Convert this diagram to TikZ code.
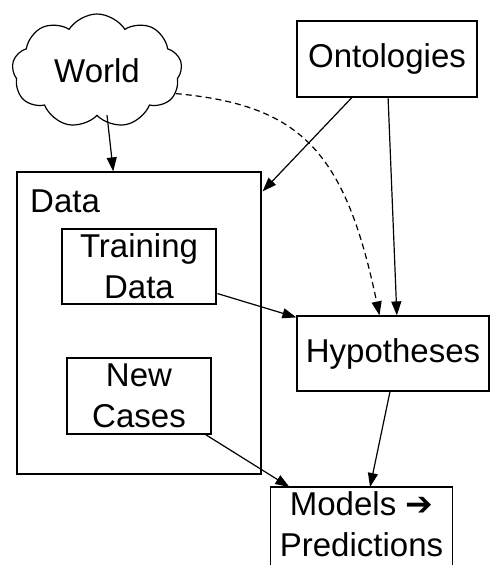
\documentclass[tikz,border=0pt]{standalone}
\usepackage{fontspec}
\setmainfont{Liberation Sans}
\newfontfamily\symfont{DejaVu Sans}
\usetikzlibrary{shapes.symbols,arrows.meta,calc}
\tikzset{
  lbl/.style={font=\fontsize{33}{41}\selectfont},
  box/.style={draw, line width=1.2pt, rectangle, inner sep=0pt, align=center, lbl},
  arr/.style={line width=1.2pt, -{Triangle[length=14pt,width=10pt]}},
}
\begin{document}
\begin{tikzpicture}[x=1pt,y=-1pt]
\useasboundingbox (0,0) rectangle (490,565);
\node[draw, line width=1.2pt, cloud, cloud puffs=9, cloud puff arc=115, aspect=1.5,
  minimum width=170pt, minimum height=114pt, inner sep=0pt, lbl] (world) at (97,71) {World};
\node[box, minimum width=180pt, minimum height=76pt] (ont) at (387,59) {Ontologies};
\node[box, minimum width=244pt, minimum height=302pt] (data) at (139,323) {};
\node[anchor=base west, inner sep=0pt, lbl] (datalabel) at (30,212) {Data};
\node[box, minimum width=154pt, minimum height=75pt] (tr) at (139,266.5) {Training\\Data};
\node[box, minimum width=144pt, minimum height=76pt] (nc) at (139,396) {New\\Cases};
\node[box, minimum width=192pt, minimum height=75pt] (hyp) at (393,353.5) {Hypotheses};
\node[box, draw=none, minimum width=181pt, inner xsep=0pt, inner ysep=4pt, anchor=north] (mod) at (361.5,487)
  {Models {\symfont ➔}\\Predictions};
\draw[line width=1.2pt] (mod.north west) rectangle ($(mod.south east)+(0,30)$);
% connectors
\draw[arr] ($(world.south)+(10,-1)$) -- ($(data.north west)!0.395!(data.north east)$);
\draw[arr] ($(ont.south west)!0.306!(ont.south east)$) -- ($(data.north east)+(1,20)$);
\draw[arr] ($(ont.south west)!0.506!(ont.south east)$) -- ($(hyp.north west)!0.52!(hyp.north east)$);
\draw[arr, dashed, dash pattern=on 6pt off 4pt] (world.-16) .. controls (300,105) and (345,150) .. ($(hyp.north west)!0.43!(hyp.north east)$);
\draw[arr] ($(tr.south east)+(1,-11)$) -- ($(hyp.north west)+(0,2)$);
\draw[arr] ($(nc.south east)+(-6,0)$) -- ($(mod.north west)+(19,0)$);
\draw[arr] ($(hyp.south)+(-3,0)$) -- ($(mod.north west)!0.547!(mod.north east)$);
\end{tikzpicture}
\end{document}
